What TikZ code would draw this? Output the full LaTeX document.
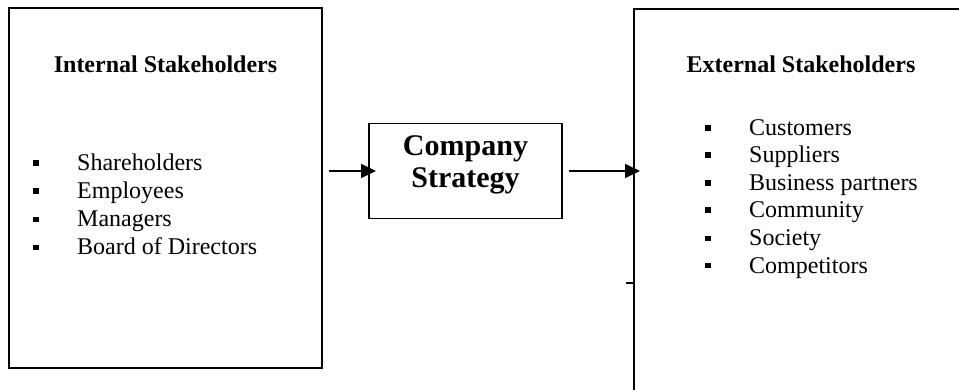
\documentclass[tikz,border=0pt]{standalone}
\usepackage{fontspec}
\setmainfont{Liberation Serif}
\usetikzlibrary{arrows.meta}
\begin{document}
\begin{tikzpicture}[x=1pt,y=-1pt,
  box/.style={draw=black,line width=1.9pt,rectangle,inner sep=0pt},
  ttl/.style={anchor=base,inner sep=0pt,font=\fontsize{24}{28}\selectfont\bfseries},
  item/.style={anchor=base west,inner sep=0pt,font=\fontsize{24}{28}\selectfont},
  cst/.style={anchor=base,inner sep=0pt,font=\fontsize{30}{32}\selectfont\bfseries},
  arr/.style={line width=1.9pt,-{Triangle[length=15pt,width=14pt]}}]
\useasboundingbox (0,0) rectangle (959,390);
\clip (0,0) rectangle (959,390);
\newcommand{\sqb}{\makebox[44pt][l]{\rule[5pt]{5.5pt}{5.5pt}}}
% internal box
\node[box,minimum width=313pt,minimum height=360pt] (int) at (165.5,188) {};
\node[ttl] (intt) at (165.5,73) {Internal Stakeholders};
\node[item] (i1) at (33,171) {\sqb Shareholders};
\node[item] (i2) at (33,199) {\sqb Employees};
\node[item] (i3) at (33,227) {\sqb Managers};
\node[item] (i4) at (33,255) {\sqb Board of Directors};
% company strategy
\node[box,minimum width=193pt,minimum height=95pt] (cs) at (465.5,171) {};
\node[cst] (cs1) at (465.5,156) {Company};
\node[cst] (cs2) at (465.5,188) {Strategy};
% external box (extends past the page)
\node[box,anchor=north west,minimum width=420pt,minimum height=420pt] (ext) at (633,8) {};
\node[ttl] (extt) at (801,73) {External Stakeholders};
\node[item] (e1) at (705,136) {\sqb Customers};
\node[item] (e2) at (705,163) {\sqb Suppliers};
\node[item] (e3) at (705,191) {\sqb Business partners};
\node[item] (e4) at (705,218) {\sqb Community};
\node[item] (e5) at (705,246) {\sqb Society};
\node[item] (e6) at (705,273) {\sqb Competitors};
% arrows
\draw[arr,shorten <=6pt,shorten >=-8pt] (int.east |- cs.west) -- (cs.west);
\draw[arr,shorten <=6pt,shorten >=-7pt] (cs.east) -- (ext.west |- cs.east);
\coordinate (tk) at (626,283);
\draw[line width=1.9pt] (tk) -- (tk -| ext.west);
\end{tikzpicture}
\end{document}
